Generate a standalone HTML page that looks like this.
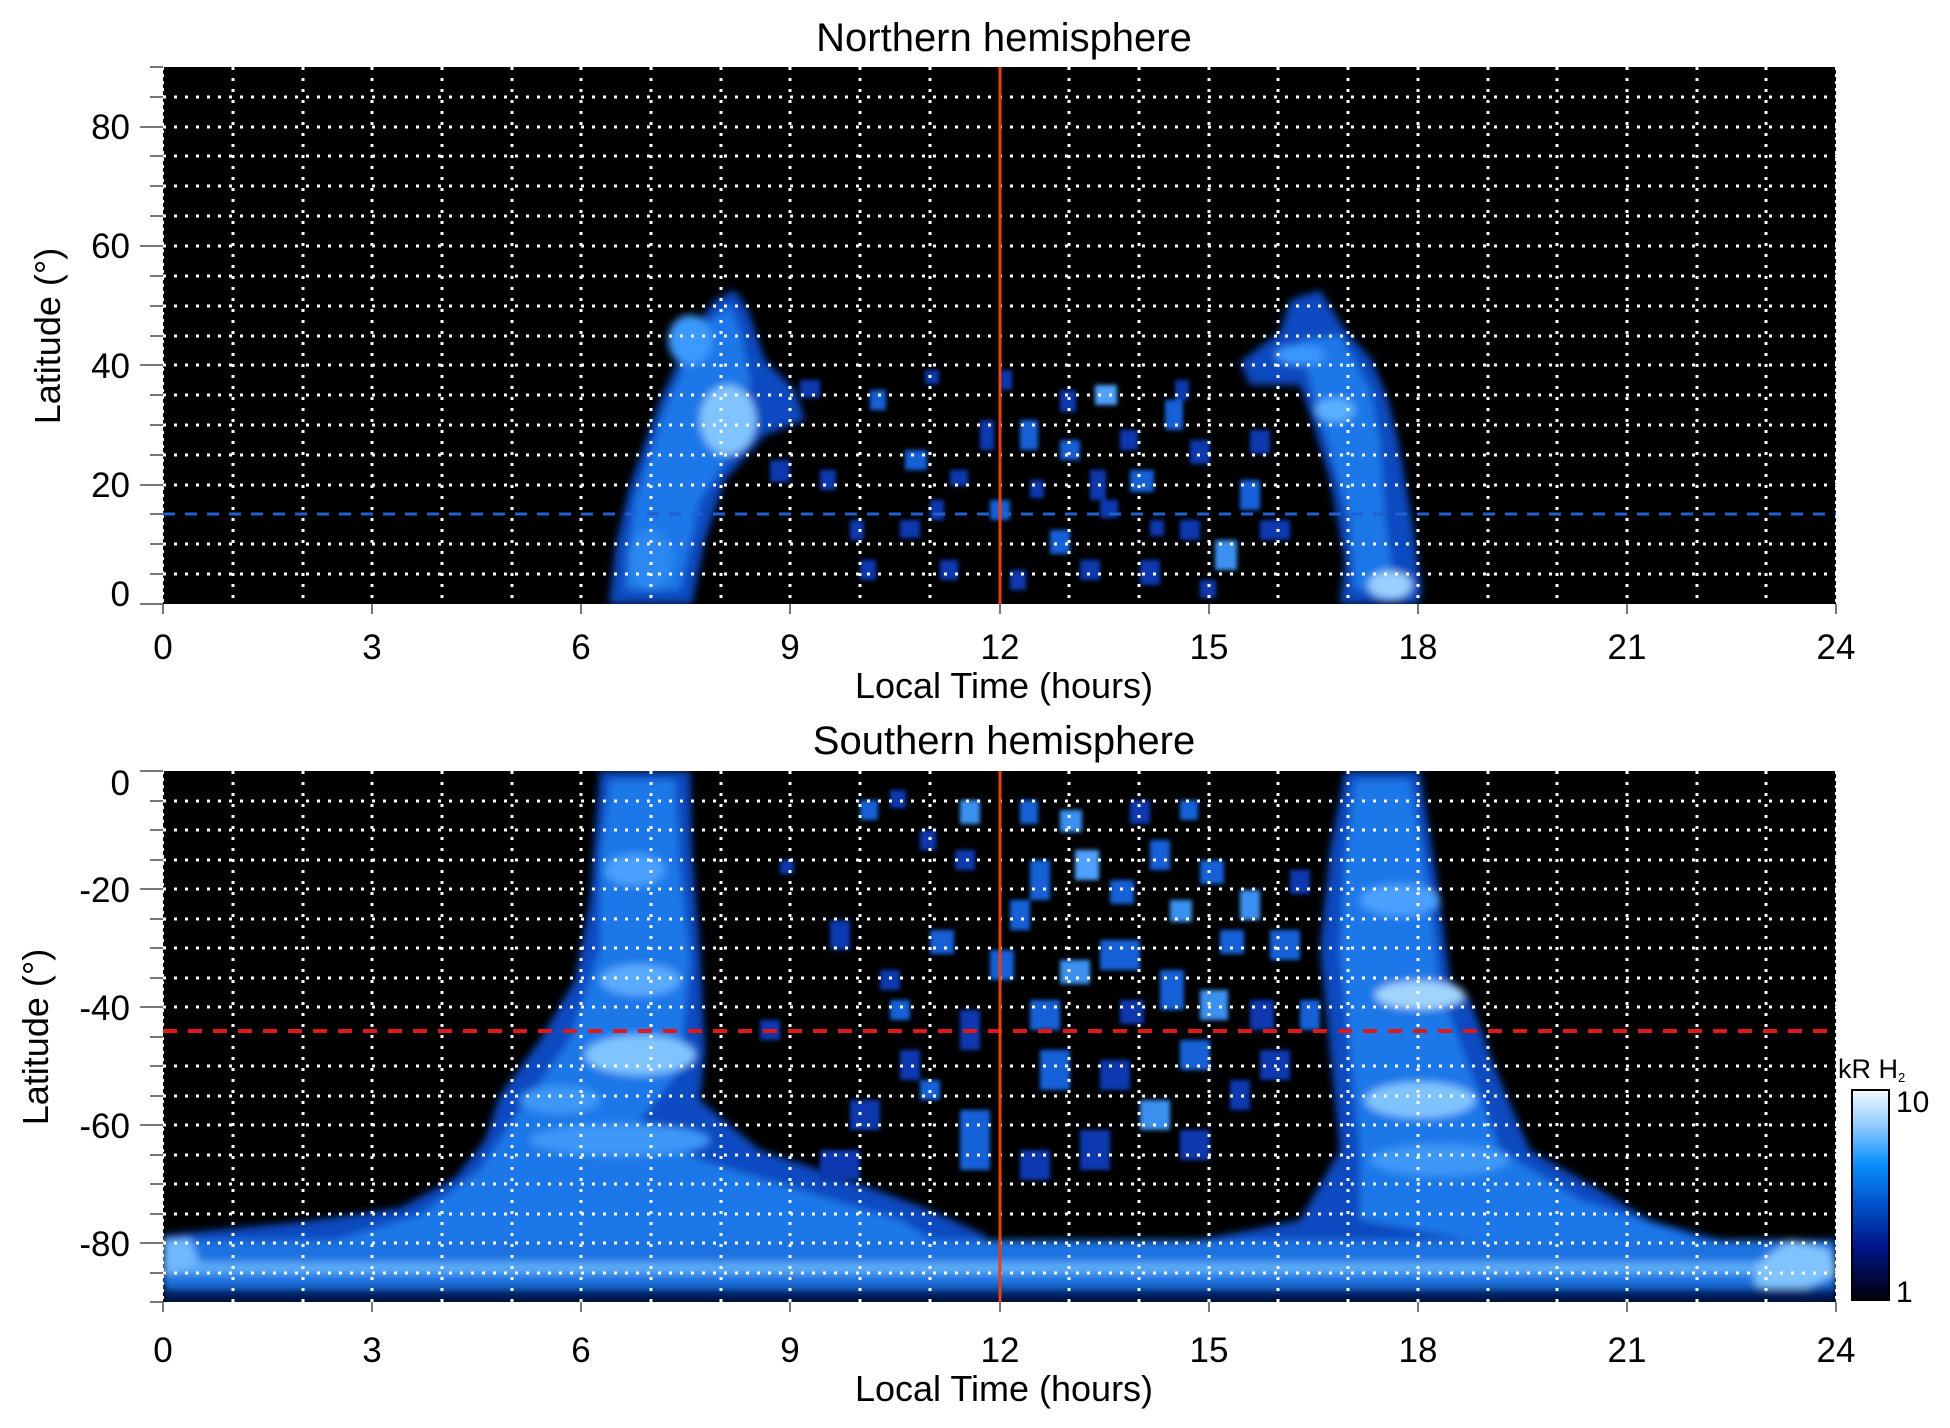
<!DOCTYPE html>
<html><head><meta charset="utf-8"><style>
html,body{margin:0;padding:0;background:#fff}
svg text{font-family:"Liberation Sans",sans-serif;fill:#000}
</style></head><body>
<svg width="1950" height="1423" viewBox="0 0 1950 1423" xmlns="http://www.w3.org/2000/svg">
<defs>
<filter id="b" x="-20%" y="-20%" width="140%" height="140%"><feGaussianBlur stdDeviation="4"/></filter>
<filter id="b2" x="-20%" y="-20%" width="140%" height="140%"><feGaussianBlur stdDeviation="2"/></filter>
<linearGradient id="cb" x1="0" y1="0" x2="0" y2="1">
<stop offset="0" stop-color="#f4faff"/><stop offset="0.18" stop-color="#8ac8ff"/><stop offset="0.35" stop-color="#0a90ff"/><stop offset="0.55" stop-color="#0050c8"/><stop offset="0.75" stop-color="#001488"/><stop offset="1" stop-color="#000008"/>
</linearGradient>
<clipPath id="c1"><rect x="163" y="67" width="1673" height="537"/></clipPath>
<clipPath id="c2"><rect x="163" y="771" width="1673" height="531"/></clipPath>
</defs>

<!-- TOP PANEL -->
<rect x="163" y="67" width="1673" height="537" fill="#000"/>
<g clip-path="url(#c1)">
<g filter="url(#b)">
<polygon fill="#0a48c0" points="609,604 616,544 630,485 660,400 690,335 715,300 735,290 748,310 765,360 795,390 805,420 765,435 725,480 705,540 692,604"/>
<polygon fill="#1a78e8" points="625,590 635,500 665,410 700,330 730,305 740,330 750,380 740,440 700,500 680,590"/>
<ellipse cx="728" cy="420" rx="28" ry="35" fill="#80c4ff"/>
<ellipse cx="690" cy="340" rx="22" ry="25" fill="#3a9aff"/>
<ellipse cx="650" cy="560" rx="22" ry="30" fill="#2a88f0"/>
<polygon fill="#0a48c0" points="1290,300 1320,290 1345,330 1372,360 1388,400 1398,440 1412,520 1422,590 1418,604 1340,604 1345,560 1330,480 1312,420 1300,385 1250,385 1240,362 1280,332"/>
<polygon fill="#1a78e8" points="1300,340 1340,335 1370,390 1380,440 1385,520 1395,590 1355,590 1350,520 1330,450 1315,400"/>
<ellipse cx="1390" cy="585" rx="22" ry="14" fill="#9ad0ff"/>
<ellipse cx="1335" cy="410" rx="20" ry="12" fill="#5ab0ff"/>
<ellipse cx="1300" cy="355" rx="25" ry="10" fill="#3a98ff"/>
</g>
<g filter="url(#b2)" fill="#0a38b0">
<rect x="800" y="380" width="20" height="18"/><rect x="870" y="390" width="16" height="20" fill="#1560d8"/>
<rect x="925" y="370" width="14" height="14"/><rect x="905" y="450" width="22" height="20" fill="#1560d8"/>
<rect x="950" y="470" width="18" height="16"/><rect x="980" y="420" width="14" height="30"/>
<rect x="990" y="500" width="20" height="20" fill="#1560d8"/><rect x="1020" y="420" width="18" height="30" fill="#1560d8"/>
<rect x="1060" y="390" width="16" height="22"/><rect x="1060" y="440" width="20" height="20" fill="#1560d8"/>
<rect x="1095" y="385" width="22" height="20" fill="#4fa0ff"/><rect x="1090" y="470" width="16" height="30"/>
<rect x="1120" y="430" width="18" height="20"/><rect x="1130" y="470" width="24" height="22" fill="#1560d8"/>
<rect x="1165" y="400" width="18" height="30" fill="#1560d8"/><rect x="1190" y="440" width="20" height="24"/>
<rect x="1215" y="540" width="22" height="30" fill="#3a90f0"/><rect x="1180" y="520" width="20" height="20"/>
<rect x="1050" y="530" width="20" height="24" fill="#1560d8"/><rect x="1080" y="560" width="20" height="20"/>
<rect x="940" y="560" width="18" height="20"/><rect x="900" y="520" width="20" height="18"/>
<rect x="850" y="520" width="14" height="20"/><rect x="860" y="560" width="16" height="20"/>
<rect x="1010" y="570" width="16" height="20"/><rect x="1140" y="560" width="20" height="25"/>
<rect x="1240" y="480" width="20" height="30" fill="#1560d8"/><rect x="1260" y="520" width="30" height="20"/>
<rect x="1250" y="430" width="20" height="24"/><rect x="1175" y="380" width="14" height="20"/>
<rect x="770" y="460" width="20" height="22"/><rect x="820" y="470" width="16" height="20"/>
<rect x="1000" y="370" width="12" height="20"/><rect x="1150" y="520" width="14" height="16"/>
<rect x="1100" y="500" width="18" height="18"/><rect x="1200" y="580" width="16" height="18"/>
<rect x="930" y="500" width="14" height="20"/><rect x="1030" y="480" width="14" height="18"/>
</g>
</g>

<!-- BOTTOM PANEL -->
<rect x="163" y="771" width="1673" height="531" fill="#000"/>
<g clip-path="url(#c2)">
<g filter="url(#b)">
<polygon fill="#0a48c0" points="600,771 690,771 692,850 700,950 705,1050 700,1100 760,1150 850,1180 930,1210 985,1235 990,1300 163,1300 163,1235 300,1222 400,1208 455,1178 485,1140 500,1095 540,1040 575,980 590,900"/>
<polygon fill="#1a78e8" points="610,780 675,780 680,870 690,960 680,1070 640,1120 700,1160 800,1190 900,1220 940,1245 300,1250 420,1215 480,1170 520,1110 570,1040 600,950 600,860"/>
<ellipse cx="640" cy="1055" rx="55" ry="20" fill="#80c4ff"/>
<ellipse cx="640" cy="980" rx="40" ry="16" fill="#5aaaff"/>
<ellipse cx="635" cy="870" rx="30" ry="16" fill="#4aa0ff"/>
<ellipse cx="620" cy="1140" rx="90" ry="16" fill="#3c98f8"/>
<ellipse cx="560" cy="1100" rx="40" ry="14" fill="#3c98f8"/>
<polygon fill="#0a48c0" points="1345,771 1420,771 1440,900 1450,980 1470,1000 1500,1080 1530,1150 1600,1190 1650,1220 1720,1240 1800,1250 1836,1270 1836,1300 1000,1300 1000,1270 1200,1240 1300,1220 1340,1150 1330,1050 1320,950 1330,850"/>
<polygon fill="#1a78e8" points="1355,780 1410,780 1430,900 1440,990 1470,1070 1500,1150 1580,1200 1700,1240 1500,1245 1360,1220 1360,1150 1350,1050 1340,950 1345,860"/>
<ellipse cx="1420" cy="995" rx="45" ry="14" fill="#a0d4ff"/>
<ellipse cx="1420" cy="1100" rx="55" ry="18" fill="#80c4ff"/>
<ellipse cx="1400" cy="900" rx="40" ry="16" fill="#4aa0ff"/>
<ellipse cx="1440" cy="1160" rx="70" ry="16" fill="#3c98f8"/>
<rect x="163" y="1240" width="1673" height="52" fill="#1f72e0"/>
<rect x="163" y="1262" width="1673" height="12" fill="#5aaaf8"/>
<polygon fill="#80c4ff" points="1755,1265 1790,1240 1830,1250 1836,1275 1790,1295 1755,1285"/>
<polygon fill="#70b8ff" points="163,1240 190,1238 200,1265 163,1275"/>
<rect x="163" y="1288" width="1673" height="14" fill="#041e60"/>
</g>
<g filter="url(#b2)" fill="#0a38b0">
<rect x="860" y="800" width="18" height="20" fill="#1560d8"/><rect x="890" y="790" width="16" height="18"/>
<rect x="920" y="830" width="16" height="20"/><rect x="960" y="800" width="20" height="24" fill="#3a90f0"/>
<rect x="955" y="850" width="20" height="20"/><rect x="1020" y="800" width="18" height="24" fill="#1560d8"/>
<rect x="1060" y="810" width="22" height="22" fill="#3a90f0"/><rect x="1075" y="850" width="24" height="30" fill="#4fa0ff"/>
<rect x="1030" y="860" width="20" height="40" fill="#1560d8"/><rect x="1110" y="880" width="24" height="24" fill="#1560d8"/>
<rect x="1150" y="840" width="20" height="30" fill="#1560d8"/><rect x="1170" y="900" width="22" height="22" fill="#3a90f0"/>
<rect x="1200" y="860" width="24" height="24" fill="#1560d8"/><rect x="1240" y="890" width="20" height="30" fill="#3a90f0"/>
<rect x="1220" y="930" width="24" height="24" fill="#1560d8"/><rect x="1270" y="930" width="30" height="30" fill="#1560d8"/>
<rect x="1100" y="940" width="40" height="30" fill="#1560d8"/><rect x="1060" y="960" width="30" height="24" fill="#3a90f0"/>
<rect x="1160" y="970" width="24" height="40" fill="#1560d8"/><rect x="1200" y="990" width="28" height="30" fill="#3a90f0"/>
<rect x="1120" y="1000" width="24" height="24"/><rect x="1030" y="1000" width="30" height="30" fill="#1560d8"/>
<rect x="1040" y="1050" width="30" height="40" fill="#1560d8"/><rect x="1100" y="1060" width="30" height="30"/>
<rect x="1140" y="1100" width="30" height="30" fill="#3a90f0"/><rect x="1180" y="1040" width="30" height="30" fill="#1560d8"/>
<rect x="960" y="1110" width="30" height="60" fill="#1560d8"/><rect x="900" y="1050" width="20" height="30"/>
<rect x="930" y="930" width="24" height="24" fill="#1560d8"/><rect x="880" y="970" width="20" height="20"/>
<rect x="830" y="920" width="20" height="30"/><rect x="780" y="860" width="14" height="14"/>
<rect x="890" y="1000" width="20" height="20" fill="#1560d8"/><rect x="960" y="1010" width="20" height="40"/>
<rect x="990" y="950" width="24" height="30" fill="#1560d8"/><rect x="1250" y="1000" width="24" height="30"/>
<rect x="1260" y="1050" width="30" height="30"/><rect x="1230" y="1080" width="20" height="30"/>
<rect x="1080" y="1130" width="30" height="40"/><rect x="850" y="1100" width="30" height="30"/>
<rect x="760" y="1020" width="20" height="20"/><rect x="820" y="1150" width="40" height="30"/>
<rect x="1010" y="900" width="20" height="30" fill="#1560d8"/><rect x="1130" y="800" width="20" height="24"/>
<rect x="1180" y="800" width="18" height="20" fill="#1560d8"/><rect x="1290" y="870" width="20" height="24"/>
<rect x="1300" y="1000" width="20" height="30" fill="#1560d8"/><rect x="1020" y="1150" width="30" height="30"/>
<rect x="1180" y="1130" width="30" height="30"/><rect x="920" y="1080" width="20" height="20" fill="#1560d8"/>
</g>
</g>

<!-- grids -->
<g stroke="#fff" stroke-width="3" stroke-dasharray="3,8" fill="none">
<path d="M233,67V604M303,67V604M372,67V604M442,67V604M512,67V604M581,67V604M651,67V604M721,67V604M790,67V604M860,67V604M930,67V604M1069,67V604M1139,67V604M1209,67V604M1278,67V604M1348,67V604M1418,67V604M1488,67V604M1557,67V604M1627,67V604M1697,67V604M1766,67V604"/>
<path d="M233,771V1302M303,771V1302M372,771V1302M442,771V1302M512,771V1302M581,771V1302M651,771V1302M721,771V1302M790,771V1302M860,771V1302M930,771V1302M1069,771V1302M1139,771V1302M1209,771V1302M1278,771V1302M1348,771V1302M1418,771V1302M1488,771V1302M1557,771V1302M1627,771V1302M1697,771V1302M1766,771V1302"/>
<path d="M163,97H1836M163,127H1836M163,156H1836M163,186H1836M163,216H1836M163,246H1836M163,276H1836M163,306H1836M163,336H1836M163,365H1836M163,395H1836M163,425H1836M163,455H1836M163,485H1836M163,544H1836M163,574H1836"/>
<path d="M163,801H1836M163,830H1836M163,860H1836M163,889H1836M163,919H1836M163,948H1836M163,978H1836M163,1007H1836M163,1066H1836M163,1096H1836M163,1125H1836M163,1155H1836M163,1184H1836M163,1214H1836M163,1243H1836M163,1273H1836"/>
</g>
<path d="M163,67V604M163,771V1302M1836,67V604M1836,771V1302" stroke="#fff" stroke-width="2" stroke-dasharray="3,4"/>
<line x1="163" y1="514" x2="1836" y2="514" stroke="#2060d0" stroke-width="3" stroke-dasharray="12,10"/>
<line x1="163" y1="1031" x2="1836" y2="1031" stroke="#e01818" stroke-width="4" stroke-dasharray="14,11"/>
<line x1="1000" y1="67" x2="1000" y2="604" stroke="#e84010" stroke-width="3"/>
<line x1="1000" y1="771" x2="1000" y2="1302" stroke="#e84010" stroke-width="3"/>

<!-- ticks -->
<g stroke="#777" stroke-width="2">
<path d="M150,67H163M150,97H163M140,127H163M150,156H163M150,186H163M150,216H163M140,246H163M150,276H163M150,306H163M150,336H163M140,365H163M150,395H163M150,425H163M150,455H163M140,485H163M150,514H163M150,544H163M150,574H163M140,604H163"/>
<path d="M140,771H163M150,801H163M150,830H163M150,860H163M140,889H163M150,919H163M150,948H163M150,978H163M140,1007H163M150,1037H163M150,1066H163M150,1096H163M140,1125H163M150,1155H163M150,1184H163M150,1214H163M140,1243H163M150,1273H163M150,1302H163"/>
<path d="M163,604v10M372,604v10M581,604v10M790,604v10M1000,604v10M1209,604v10M1418,604v10M1627,604v10M1836,604v10M163,1302v10M372,1302v10M581,1302v10M790,1302v10M1000,1302v10M1209,1302v10M1418,1302v10M1627,1302v10M1836,1302v10"/>
</g>

<!-- text -->
<g font-size="40" text-anchor="middle">
<text x="1004" y="51">Northern hemisphere</text>
<text x="1004" y="754">Southern hemisphere</text>
</g>
<g font-size="36" text-anchor="middle">
<text x="1004" y="698">Local Time (hours)</text>
<text x="1004" y="1401">Local Time (hours)</text>
<text transform="translate(60,336) rotate(-90)">Latitude (°)</text>
<text transform="translate(48,1037) rotate(-90)">Latitude (°)</text>
</g>
<g font-size="35" text-anchor="middle">
<text x="163" y="659">0</text><text x="372" y="659">3</text><text x="581" y="659">6</text><text x="790" y="659">9</text><text x="1000" y="659">12</text><text x="1209" y="659">15</text><text x="1418" y="659">18</text><text x="1627" y="659">21</text><text x="1836" y="659">24</text>
<text x="163" y="1362">0</text><text x="372" y="1362">3</text><text x="581" y="1362">6</text><text x="790" y="1362">9</text><text x="1000" y="1362">12</text><text x="1209" y="1362">15</text><text x="1418" y="1362">18</text><text x="1627" y="1362">21</text><text x="1836" y="1362">24</text>
</g>
<g font-size="35" text-anchor="end">
<text x="130" y="139">80</text><text x="130" y="258">60</text><text x="130" y="378">40</text><text x="130" y="497">20</text><text x="130" y="606">0</text>
<text x="130" y="795">0</text><text x="130" y="902">-20</text><text x="130" y="1020">-40</text><text x="130" y="1138">-60</text><text x="130" y="1256">-80</text>
</g>

<!-- colorbar -->
<rect x="1852" y="1090" width="37" height="210" fill="url(#cb)" stroke="#000" stroke-width="2"/>
<text x="1838" y="1078" font-size="27">kR H<tspan font-size="13" dy="4">2</tspan></text>
<text x="1896" y="1112" font-size="30">10</text>
<text x="1896" y="1302" font-size="30">1</text>
</svg>
</body></html>
